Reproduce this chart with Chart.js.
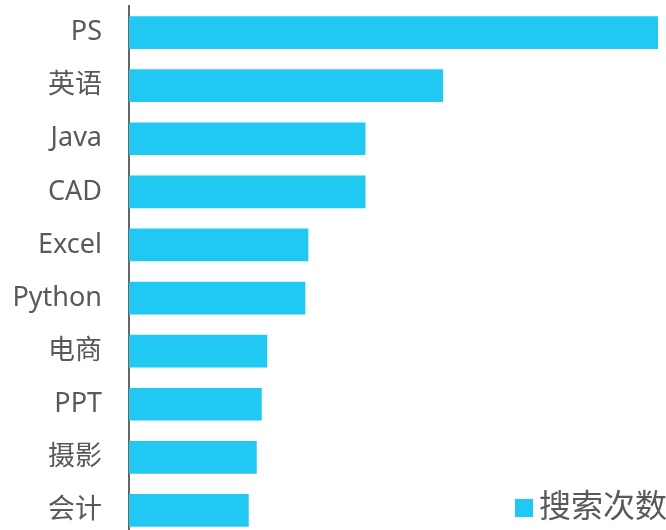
<!DOCTYPE html>
<html>
<head>
<meta charset="utf-8">
<script src="https://cdn.jsdelivr.net/npm/chart.js@4.4.1/dist/chart.umd.min.js"></script>
<style>
  html, body { margin: 0; padding: 0; overflow: hidden; background: #fff; }
  #wrap { position: relative; width: 666px; height: 542px; }
</style>
</head>
<body>
<div id="wrap"><canvas id="chart"></canvas></div>
<script>
// 数据
const categories = ['PS', '英语', 'Java', 'CAD', 'Excel', 'Python', '电商', 'PPT', '摄影', '会计'];
const searchCounts = [528, 313.5, 236, 236, 179, 176, 138, 132.5, 127.5, 119.5];
const seriesName = '搜索次数';

const barColor = '#21c8f2';
const textColor = '#595959';

// 图例画在右下角（覆盖在图上）
const cornerLegend = {
    id: 'cornerLegend',
    afterDraw(chart) {
        const ctx = chart.ctx;
        const ds = chart.data.datasets[0];
        ctx.save();
        ctx.fillStyle = ds.backgroundColor;
        ctx.fillRect(515, 499, 18, 18);
        ctx.fillStyle = textColor;
        ctx.font = "32px 'Noto Sans', 'Noto Sans CJK SC'";
        ctx.textBaseline = 'middle';
        ctx.textAlign = 'left';
        ctx.fillText(ds.label, 539, 508);
        ctx.restore();
    }
};

const ctx = document.getElementById('chart').getContext('2d');
new Chart(ctx, {
    type: 'bar',
    data: {
        labels: categories,
        datasets: [{
            label: seriesName,
            data: searchCounts,
            backgroundColor: barColor,
            borderWidth: 0,
            categoryPercentage: 1,
            barPercentage: 0.616
        }]
    },
    options: {
        indexAxis: 'y',
        responsive: true,
        maintainAspectRatio: false,
        animation: false,
        layout: { padding: { top: 6, bottom: 5, left: 0, right: 7 } },
        plugins: {
            legend: { display: false },
            tooltip: { enabled: false }
        },
        scales: {
            x: {
                display: false,
                min: 0,
                max: 529
            },
            y: {
                z: 1,
                grid: { display: false, drawTicks: false },
                border: { display: true, color: '#666666', width: 2 },
                ticks: {
                    color: textColor,
                    padding: 27,
                    font: { family: "'Noto Sans', 'Noto Sans CJK SC'", size: 27 }
                },
                afterFit(scale) {
                    scale.width = 129;
                    scale.paddingTop = 0;
                    scale.paddingBottom = 0;
                }
            }
        }
    },
    plugins: [cornerLegend]
});
</script>
</body>
</html>
